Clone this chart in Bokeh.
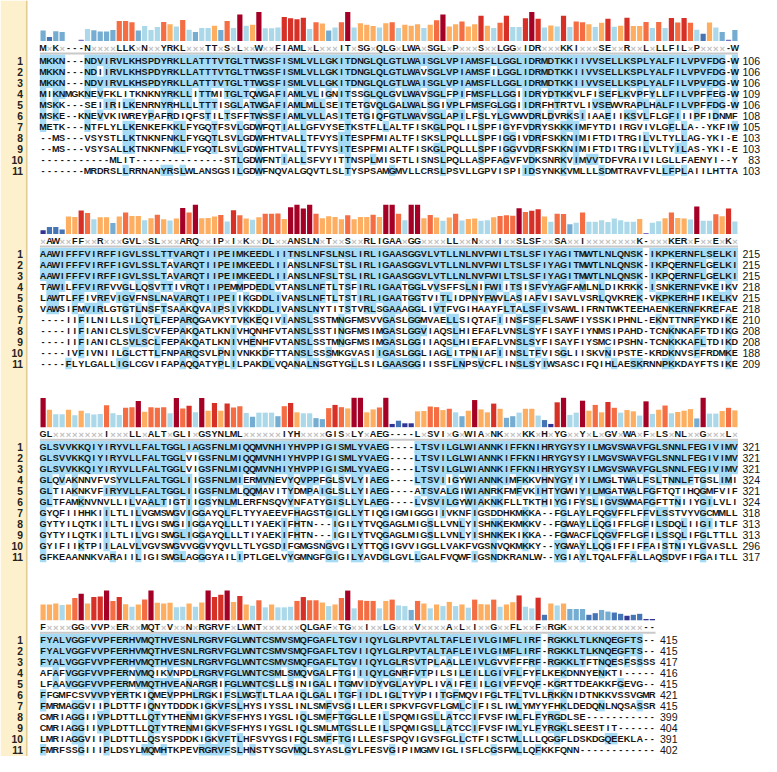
import sys
from bokeh.plotting import figure
from bokeh.models import ColumnDataSource, Range1d
from bokeh.embed import file_html
from bokeh.resources import INLINE
from bokeh.core.properties import value

# ---------------- data ----------------
row_labels = [str(i) for i in range(1, 12)]

block1_rows = [
    "MKKN---NDVIRVLKHSPDYRKLLATTTVTGLTTWGSFISMLVLLGKITDNGLQ" + "LGTLWAISGLVPIAMSFLLGGLIDRMDTKKIIVVSELLKSPLYALFILVPVFDG-W",
    "MKKN---NDIIRVLKHSPDYRKLLATTTVTGLTTWGSFISMLVLLGKITDNGLQ" + "LGTLWAVSGLVPIAMSFILGGLIDRMDTKKIIVVSELLKSPLYALFILVPVFDG-W",
    "MKKN---NDVIRVLKHSPDYRKLLATTTVTGLTTWGSFISMLVLLGKITDNGLQ" + "LGTLWAISGLVPIAMSFLLGGLIDRMDTKKIIVVSELLKSPLYALFILVPVFDG-W",
    "MIKNMGKNEVFKLITKNKNYRKLLITTMITGLTQWGAFIAMLVLIGNITSSGLQ" + "LGVLWAVSGLFPIFMSFLLGGIIDRYDTKKVLFISEFLKVPFYLLFILVPFFEG-W",
    "MSKK---SEIIRILKENRNYRHLLLTTTISGLATWGAFIAMLMLLSEITETGVQ" + "LGALWALSGIVPLFMSFGLGGIIDRFHTRTVLIVSEWVRAPLHALFILVPFFDG-W",
    "MSKE--KNEVVKIWREYPAFRDIQFSTILTSFFTWSSFIAMLVLLASITETGIQ" + "FGTLWAVSGLAPILFSLYLGVWVDRLDVRKSIIAAEIIKSVLFLGFIIIPFIDNMF",
    "METK---NTFLYLLKENKEFKKLFYGQTFSVLGDWFQTIALLGFVYSETKSTFL" + "LALTFISKGLPQLILSPFIGYFVDRYSKKKIMFYTDIIRGVIVLGFLLA--YKFIW",
    "--MS---VSYSTLLKTNKNFNKLFYGQTLSVLGDWFHTVALLTFVYSITESPFM" + "IALTFISKSLPQLLLSPFIGGIVDRFSKKNIMIFTDITRGILVLTYLLAG-YKI-E",
    "--MS---VSYSALLKTNKNFNKLFYGQTLSVLGDWFHTVALLTFVYSITESPFM" + "IALTFISKGLPQLLLSPFIGGVVDRFSKKNIMIFTDITRGILVLTYILAS-YKI-E",
    "-----------MLIT--------------STLGDWFNTIALLSFVYITTNSPLM" + "ISFTLISNSLPQLLASPFAGVFVDKSNRKVIMVVTDFVRAIVILGLLFAENYI--Y",
    "-------MRDRSLLRRNANYRSLWLANSGSILGDWFNQVALGQVTLSLTYSPSA" + "MGMVLLCRSLPSVLLGPVISPIIDSYNKKVMLLLSDMTRAVFVLLFPLAIILHTTA",
]
block1_consensus = "MxKx---NxxxxLLKxNxxYRKLxxxTTxSxLxxWxxFIAMLxLxxxITxSGxQ" + "LGxLWAxSGLxPxxxSxxLGGxIDRxxxKKIxxxSExxRxxLxLLFILxPxxxx-W"
block1_heights = [32, 12, 30, 28, 0, 0, 4, 37, 33, 29, 29, 34, 62, 62, 58, 32, 46, 34, 43, 59,
                  52, 45, 65, 35, 28, 40, 40, 47, 34, 62, 40, 82, 47, 50, 90, 39, 39, 42, 74, 70,
                  67, 72, 37, 58, 54, 32, 42, 58, 90, 42, 55, 50, 46, 42, 55, 58, 40, 50, 47, 52,
                  40, 50, 64, 82, 45, 52, 60, 45, 52, 78, 47, 40, 56, 78, 43, 43, 70, 90, 69, 42,
                  48, 45, 78, 43, 60, 58, 52, 43, 56, 69, 44, 47, 72, 46, 46, 59, 40, 59, 40, 71,
                  57, 71, 56, 35, 22, 57, 42, 28, 4, 34]
block1_colors = ("SMSS--PLSS" "SSOOOSLLLO" "YLOLSLLYSO" "LDLYDLLLRR" "RRLOYSLODL"
                 "YYYLYOLYYY" "LYODYYOYYR" "YLORLLRDRL" "YLRLOOYLYR" "LYRYYOLOLR" "OROLMYLSPS")
block1_ends = [106, 106, 106, 109, 106, 108, 105, 103, 103, 83, 103]

block2_rows = [
    "AAWIFFFVIRFFIGVLSSLTTVARQTIIPEIMKEEDLIITNSLNFSLNSLIRLI" + "GAASGGVLVTLLNLNVFWILTSLSFIYAGITMWTLNLQNSK-IKPKERNFLSELKI",
    "AAWIFFFVIRFFIGVLSSLTAVARQTIIPEIMKEEDLIIANSLNFSLTSLIRLI" + "GAASGGVLVTLLNLNVFWILTSLSFIYAGITMWTLNLQNSK-IKPQERNFLGELKI",
    "AAWIFFFVIRFFIGVLSSLTAVARQTIIPEIMKEEDLIIANSLNFSLTSLIRLI" + "GAASGGVLVTLLNLNVFWILTSLSFIYAGITMWTLNLQNSK-IKPQERNFLGELKI",
    "TAWILFFVIRFVVGLLQSVTTIVRQTIIPEMMPDEDLVTANSLNFTLTSFIRLI" + "GAATGGLVVSFFSLNIFWIITSISFVYAGFAMLNLDIKRKK-ISNKERNFVKEIKV",
    "LAWTLFFIVRFVIGVFNSLNAVARQTIIPEIIKGDDLIVANSLNFTLTSTIRLI" + "GAATGGTVITLIDPNYFWVLASIAFVISAVLVSRLQVKREK-VKPKERHFIKELKV",
    "VAWSIFMVIRLGTGTLNSFTSAAKQVAIPSIVKKDDLIVANSLNYTITSTVRLS" + "GAAAGGLIVTFVGIHAAYFLTALSFIVSAWLIFRNTWKTEEHAENKERNFKREFAE",
    "----IIFILNILLSILQTLFEPARQGAVKYTVKKEQIVIANSLSSTMNGFMSVV" + "GASLGGMVAELLSIQTAFIINSFSFFLSAWFIYSSKIPHNL-EKNTTNRFYKDIKE",
    "----IIFIANICLSVLSCVFEPAKQATLKNIVHQNHFVTANSLSSTINGFMSIM" + "GASLGGVIAQSLHIEFAFLVNSLSYFISAYFIYNMSIPAHD-TCNKNKAFFTDIKG",
    "----IIFIANICLSVLSCLFEPAKQATLKNIVHENHFVTANSLSSTMNGFMSIM" + "GASLGGIIAQSLHIEFAFLVNSLSYFISAYFIYSMCIPSHN-TCNKKKAFLTDIKD",
    "----IVFIVNIILGLCTTLFNPARQSVLPNIVNKKDFTTANSLSSSMKGVASII" + "GASLGGLIAGLITPNIAFIINSLTFVISGLIISKVNIPSTE-KRDKNVSFFRDMKE",
    "----FLYLGALLIGLCGVIFAPAQQATYPLILPAKDLVQANALNSGTYGLLSIL" + "GAASGGIISSFLNPSVCFLINSLSYIWSASCIFQIHLAESKRNNPKKDAYFTSIKE",
]
block2_consensus = "xAWxxFFxxRxxxGVLxSLxxxARQxxIPxIxKxxDLxxANSLNxTxxSxxRLI" + "GAAxGGxxxxLLxxNxxxIxxSLSFxxSAxxIxxxxxxxxK-xxxKERxFxxExKx"
block2_heights = [12, 22, 22, 14, 54, 53, 73, 65, 46, 52, 52, 34, 54, 67, 56, 56, 43, 49, 60, 46,
                  42, 48, 81, 67, 91, 49, 50, 54, 59, 39, 74, 58, 48, 44, 52, 63, 63, 64, 47, 83,
                  91, 79, 91, 63, 49, 55, 53, 46, 58, 46, 53, 53, 60, 53, 91, 91, 63, 43, 91, 91,
                  49, 59, 51, 41, 51, 63, 42, 47, 48, 41, 43, 52, 56, 58, 57, 80, 68, 72, 77, 54,
                  38, 63, 62, 30, 35, 67, 38, 38, 43, 37, 48, 43, 38, 38, 47, 3, 35, 40, 49, 67,
                  50, 48, 45, 85, 41, 41, 61, 55, 79, 39]
block2_colors = ("NMMMYYROLY" "YSYOYYLYOY" "LYDODYYYOL" "ROYLYOOOYD" "DDDOYYYYOY"
                 "YYOYDDOLDD" "YOYLYOLYYL" "LYOOODORRY" "LOOSLOLLLL" "LLLLYPLLYO" "YYLDLLOYRL")
block2_ends = [215, 215, 215, 218, 215, 218, 210, 208, 208, 188, 209]

block3_rows = [
    "GLSVVKKQIYIRYVLLFALTGGLIAGSFNLMIQQMVNHIYHVPPIGISMLYVAE" + "G----LTSVILGLWIANNKIFFKNIHRYGYSYILMGVSWAVFGLSNNLFEGIVIMV",
    "GLSVVKKQIYIRYVLLFALTGGLVIGSFNLMIQQMVNHIYHVPPIGISMLYVAE" + "G----LTSVILGLWIANNKIFFKNIHRYGYSYILMGVSWAVFGLSNNLFEGIVIMV",
    "GLSVVKKQIYIRYVLLFALTGGLVIGSFNLMIQQMVNHIYHVPPIGISMLYVAE" + "G----LTSVILGLWIANNKIFFKNIHRYGYSYILMGVSWAVFGLSNNLFEGIVIMV",
    "GLQVAKNNVFVSYVLLFALTGGLIIGSFNLMIERMVNEVYQVPPFGLSVLYIAE" + "G----LTSVIIGYWIANNKIMFKKVHNYGYIYILMGLTWALFSLTNNLFTGSLIMI",
    "GLTIAKNKVFIRYVLLFALTGGLIIGSFNLMLQQMAVITYDMPAIGLSLLYIAE" + "G----ATSVALGIWIANRKFMFVKIHTYGWIYILMGATWALFGFTQTIHQGMFVIF",
    "GLTFAMKNVNVLLILVAALTIGTIIGSYNLMLERFNSQVYNFATYGISLLYLAE" + "G----LVSVILGYWIAKNKFLLTKTHIYGIFYSLIGVSWMAFGFTTNIIYGILVLI",
    "GYQFIIHHKIILTLILVGMSWGVIGGAYQLFLTYYAEEVFHAGSTGIGLLYTIQ" + "GIGMIGGGIIVKNFIGSDDHKMKKA--FGLAYLFQGVFFLFFVLSSTVYVGCMMLL",
    "GYTYILQTKIILTLILVGISWGIIGGAYQLLLTIYAEKIFHTN---IGILYTVQ" + "GAGLMIGSLLVNLYISHNKEKMKKV--FGWAYLLQGIFFLGFILSDQLIIGIITLF",
    "GYTYILQTKIILTLILVGISWGLIGGAYQLLLTIYAEKIFHTN---IGILYTVQ" + "GAGLMIGSLLVNLYISHNKEKIKKA--FGWACFLQGVFFLGFILSSQLIFGLTTLL",
    "GYIFIIKTPIILALVLVGVSWGVVGGVYQVLLTLYGSDIFGMGSNGVGILYTTQ" + "GIGVVIGGLLVAKFVGSNVQKMKKY--YGWAYLLQGIFFIFFAISTNIYLGVASLL",
    "GFKEAANNKVARAIILIGISWGLAGGGYAILIPTLGELVYGMNGFGIGILYAVD" + "GLGVLLGALFVQWFIGSNDKRANLW--YGIAYLTQALFFALLAQSDVFIFGAITLL",
]
block3_consensus = "GLxxxxxxxxIxxxLLxALTxGLIxGSYNLMLxxxxxxIYHxxxxGISxLYxAE" + "G----LxSVIxGxWIAxNKxxxKKxHxYGxxYxLxGVxWAxFxLSxNLxxGxxxLx"
block3_heights = [90, 54, 40, 40, 54, 37, 51, 43, 39, 41, 68, 43, 38, 60, 62, 81, 48, 62, 60, 62,
                  43, 90, 58, 66, 46, 90, 51, 75, 51, 73, 61, 65, 44, 32, 45, 45, 45, 34, 65, 75,
                  46, 43, 43, 28, 25, 59, 69, 62, 58, 91, 91, 46, 55, 61, 91, 10, 20, 12, 12, 49,
                  50, 64, 62, 53, 57, 46, 34, 51, 84, 55, 46, 73, 57, 29, 34, 45, 57, 57, 36, 22,
                  10, 77, 91, 38, 45, 82, 51, 69, 46, 78, 60, 45, 53, 49, 36, 80, 41, 54, 67, 43,
                  47, 51, 56, 27, 91, 42, 42, 50, 60, 52]
block3_colors = ("DYLLYLYLLL" "OLLOODYOOO" "LDORLDYRYR" "OOLSLLLSOR" "YLLSSOROYD"
                 "DYYODNMNNY" "YOOYOLSYDY" "YRYSSLYYLM" "NRDLLDYOYR" "OLYYLDLYOL" "YYYSDLLYOY")
block3_ends = [321, 321, 321, 324, 321, 324, 318, 313, 313, 296, 317]

block4_rows = [
    "FYALVGGFVVPFERHVMQTHVESNLRGRVFGLWNTCSMVSMQFGAFLTGVIIQY" + "LGLRPVTALTAFLEIVLGIMFLIRF-RGKKLTLKNQEGFTS--",
    "FYALVGGFVVPFERHVMQTHVESNLRGRVFGLWNTCSMVSMQFGAFLTGVIIQY" + "LGLRPVTALTAFLEIVLGIMFLIRF-RGKKLTLKNQEGFTS--",
    "FYALVGGFVVPFERHVMQTHVESNLRGRVFGLWNTCSMVSMQFGAFLTGVIIQY" + "LGLRSVTPLAALLEIVLGVVFFFRF-RGKKLTFTNQESFSSSS",
    "AFAFVGGFVVPFERNVMQIKVNPDLRGRVFGLWNTCSMLSMQVGALFTGIIIQY" + "LGNRFVTPILSILEILLGIVFLFYFLKEKDNNYENKTI-----",
    "LFAAVGGFVVPFERMVMQTHVEANARGRIFGLWNTCSLLSINIGALITGMVIDY" + "VGLAYVPLIVAIFEIILGIVFFVQF-KGRTTDEAKKFGEVG--",
    "FFGMFCSVVVPYERTKIQMEVPPHLRGKIFSLWGTLTLAAIQLGALITGFIIDL" + "IGLTYVPIITGFMQVIFGLTFLTVLLRKKNIDTNKKVSSVGMR",
    "FMRMAGGVIIPLDTTFIQNYTDDDKIGKVFSLHYSIYSSLINLSMFVSGILLER" + "ISPKVFGVFLGMLCIFISLIWLYMYYFHKLDEDQNLNQSASSR",
    "CMRIAGGIIVPLDTTLLQTYTHENMIGKVFSFHYSIYGSLIQLSMFFTGGLLEI" + "LSPQMIGSLLATCCIFVSFIWLFLFYRGDLSE-----------",
    "CMRIAGGIIVPLDTTLLQTYTRENMIGKVFSFHYSIYGSLIQLSMLMTGSLLEI" + "LSPQMIGSLLATCCIFVSFIWLYLFYRGKLSEESTIT------",
    "LMRIAGGVIIPLDTTLLQSYSPDDKIGKVFTLHFSVYGSIFQLSMFFTGILLES" + "FSPQVIGVSFGLLCTFISCTWLLLLQGGFLDSKDGQEEKLA--",
    "FMRFSSGIIIPLDSYLMQMHTKPEVRGRVFSLHNSTYSGVMQLSYASLGYLFES" + "VGIPIMGMVIGLISFLCGSFWLLQFKKFQNN------------",
]
block4_consensus = "FxxxxGGxVVPxERxxMQTxVxxNxRGRVFxLWNTxxxxxxQLGAFxTGxxIxx" + "LGxxxVxxxxAxLxIxxGxxFLxxFxRGKxxxxxxxxxxxx--"
block4_heights = [49, 49, 52, 47, 49, 69, 82, 52, 72, 74, 92, 60, 72, 50, 42, 49, 64, 92, 54, 52,
                  54, 40, 42, 52, 42, 55, 92, 72, 79, 92, 57, 75, 49, 45, 62, 40, 49, 40, 40, 42,
                  60, 72, 62, 62, 55, 44, 49, 69, 92, 37, 62, 60, 60, 37, 60, 64, 46, 44, 32, 60,
                  52, 37, 49, 44, 57, 44, 49, 39, 64, 50, 49, 64, 42, 49, 56, 77, 42, 37, 70, 17,
                  52, 46, 52, 35, 35, 35, 17, 22, 32, 27, 24, 20, 14, 17, 20, 4, 4]
block4_colors = ("YYYLYODYRR" "DORYLYODYY" "YLLYLYDRRD" "YRYLOLYLLL" "OROOYLYODL"
                 "OOOLYOLLSO" "YLYLYLYLOY" "YOLYYRLLRM" "YLYSSSMMSS" "MMNMMNN")
block4_ends = [415, 415, 417, 416, 415, 421, 415, 399, 404, 391, 402]

bar_palette = {
    "D": "#a50026", "R": "#d73027", "O": "#f46d43", "Y": "#fdae61",
    "L": "#abd9e9", "S": "#74add1", "M": "#4575b4", "N": "#313695", "P": "#7b70c4",
}

# ---------------- layout (reference pixel space) ----------------
REF_W, REF_H = 777, 772
W, H = 761, 756
SC = W / REF_W

CHAR_W = 6.48
X0 = 43.5
ROW1_Y0 = 61.0
BLOCK_DY = 197.2
ROW_DY = 11.25
BAR_MAX = 30.0
BAR_FULL = 91.0
HILITE = "#a6dbf5"
TEXT_COLOR = "#141414"


def fs(px):
    return "%.2fpx" % (px * SC)


def fix(s, n, pad="-"):
    if len(s) != n:
        print("length mismatch", len(s), n, s[:20], file=sys.stderr)
    return (s + pad * n)[:n]


p = figure(width=W, height=H, x_range=Range1d(0, REF_W), y_range=Range1d(REF_H, 0),
           output_backend="svg", toolbar_location=None, tools="", min_border=0,
           x_axis_type=None, y_axis_type=None)
p.xgrid.visible = False
p.ygrid.visible = False
p.outline_line_color = None
p.background_fill_color = "white"
p.border_fill_color = "white"

# left yellow panel
p.quad(left=[0], right=[26.5], top=[0], bottom=[REF_H], fill_color="#fdf0cc", line_color=None)
p.segment(x0=[26.8], x1=[26.8], y0=[0], y1=[REF_H], line_color="#e3cc92", line_width=1.6 * SC)

blocks = [
    (block1_rows, block1_consensus, block1_heights, block1_colors, block1_ends),
    (block2_rows, block2_consensus, block2_heights, block2_colors, block2_ends),
    (block3_rows, block3_consensus, block3_heights, block3_colors, block3_ends),
    (block4_rows, block4_consensus, block4_heights, block4_colors, block4_ends),
]

hl = dict(left=[], right=[], top=[], bottom=[])
bars = dict(x=[], top=[], bottom=[], color=[])
seq_txt = dict(x=[], y=[], t=[])
cons_txt = dict(x=[], y=[], t=[])
consx_txt = dict(x=[], y=[], t=[])
end_txt = dict(x=[], y=[], t=[])
lab_txt = dict(x=[], y=[], t=[])
sep = dict(x0=[], x1=[], y=[])

for b, (rows, cons, heights, colors, ends) in enumerate(blocks):
    ncol = len(heights)
    rows = [fix(r, ncol) for r in rows]
    cons = fix(cons, ncol, "x")
    colors = fix(colors, ncol)
    row1_y = ROW1_Y0 + b * BLOCK_DY
    base_y = row1_y - 19.7
    ref = rows[0]

    # conservation bars
    for c in range(ncol):
        h = heights[c]
        code = colors[c]
        if h > 0 and code in bar_palette:
            bars["x"].append(X0 + c * CHAR_W)
            bars["bottom"].append(base_y)
            bars["top"].append(base_y - h / BAR_FULL * BAR_MAX)
            bars["color"].append(bar_palette[code])

    # consensus
    cy = row1_y - 12.4
    for c, ch in enumerate(cons):
        if ch == "x":
            consx_txt["x"].append(X0 + c * CHAR_W)
            consx_txt["y"].append(cy)
            consx_txt["t"].append("\u00d7")
        else:
            cons_txt["x"].append(X0 + c * CHAR_W)
            cons_txt["y"].append(cy)
            cons_txt["t"].append(ch)

    sep["x0"].append(X0 - CHAR_W / 2)
    sep["x1"].append(X0 + (ncol - 0.5) * CHAR_W)
    sep["y"].append(row1_y - 6.9)

    # sequences + highlight
    for r, row in enumerate(rows):
        y = row1_y + r * ROW_DY
        c = 0
        while c < ncol:
            if row[c] != "-" and row[c] == ref[c]:
                c1 = c
                while c1 + 1 < ncol and row[c1 + 1] != "-" and row[c1 + 1] == ref[c1 + 1]:
                    c1 += 1
                hl["left"].append(X0 + (c - 0.5) * CHAR_W)
                hl["right"].append(X0 + (c1 + 0.5) * CHAR_W)
                hl["top"].append(y - ROW_DY / 2 - 0.2)
                hl["bottom"].append(y + ROW_DY / 2 + 0.2)
                c = c1 + 1
            else:
                c += 1
        for c, ch in enumerate(row):
            seq_txt["x"].append(X0 + c * CHAR_W)
            seq_txt["y"].append(y + 0.3)
            seq_txt["t"].append(ch)
        end_txt["x"].append(X0 + (ncol - 0.5) * CHAR_W + 22.5)
        end_txt["y"].append(y + 0.3)
        end_txt["t"].append(str(ends[r]))
        lab_txt["x"].append(23)
        lab_txt["y"].append(y + 0.3)
        lab_txt["t"].append(row_labels[r])

p.quad(source=ColumnDataSource(hl), left="left", right="right", top="top", bottom="bottom",
       fill_color=HILITE, line_color=None)

p.vbar(source=ColumnDataSource(bars), x="x", top="top", bottom="bottom", width=CHAR_W * 0.82,
       fill_color="color", line_color=None)

p.segment(source=ColumnDataSource(sep), x0="x0", x1="x1", y0="y", y1="y",
          line_color="#c9c9c9", line_width=2.0 * SC)

font = value("Liberation Sans")
p.text(source=ColumnDataSource(seq_txt), x="x", y="y", text="t", text_font=font,
       text_font_style="bold", text_font_size=fs(9.3), text_color=TEXT_COLOR,
       text_align="center", text_baseline="middle")
p.text(source=ColumnDataSource(cons_txt), x="x", y="y", text="t", text_font=font,
       text_font_style="bold", text_font_size=fs(9.3), text_color=TEXT_COLOR,
       text_align="center", text_baseline="middle")
p.text(source=ColumnDataSource(consx_txt), x="x", y="y", text="t", text_font=font,
       text_font_style="bold", text_font_size=fs(9.6), text_color="#c2c2c2",
       text_align="center", text_baseline="middle")
p.text(source=ColumnDataSource(end_txt), x="x", y="y", text="t", text_font=font,
       text_font_size=fs(10.8), text_color=TEXT_COLOR,
       text_align="right", text_baseline="middle")
p.text(source=ColumnDataSource(lab_txt), x="x", y="y", text="t", text_font=font,
       text_font_style="bold", text_font_size=fs(10.5), text_color="#222222",
       text_align="right", text_baseline="middle")

open("out.html", "w").write(file_html(p, INLINE))
